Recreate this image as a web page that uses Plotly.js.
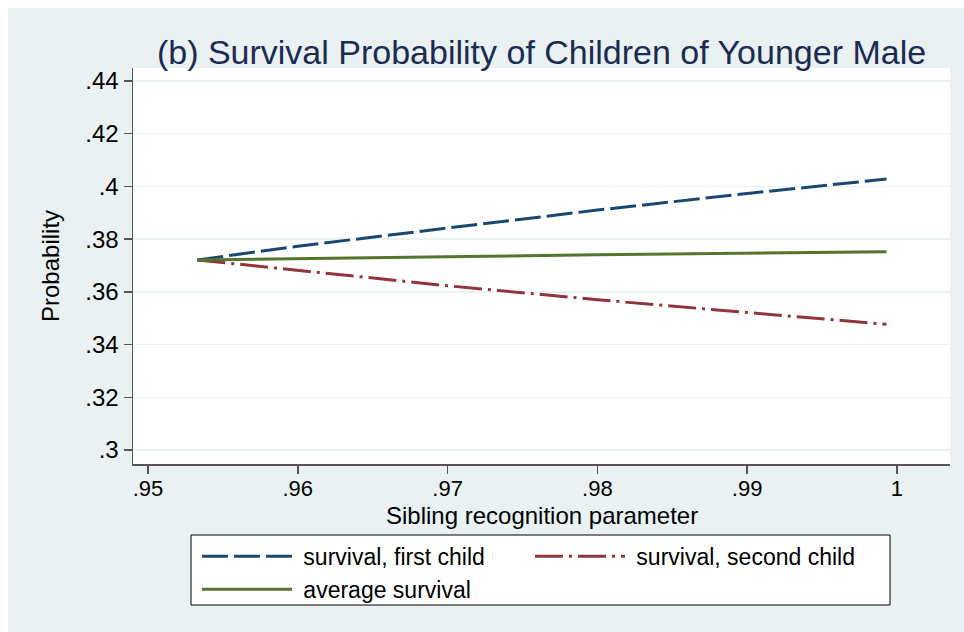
<!DOCTYPE html>
<html>
<head>
<meta charset="utf-8">
<script src="https://cdn.plot.ly/plotly-3.0.1.min.js"></script>
<style>
html,body{margin:0;padding:0;background:#ffffff;}
#chart{position:absolute;left:8px;top:8px;width:956px;height:624px;}
</style>
</head>
<body>
<div id="chart"></div>
<script>
// Sibling recognition parameter
const xValues = [0.9533, 0.96, 0.97, 0.98, 0.99, 0.9993];
// survival, first child
const firstChild = [0.3721, 0.3773, 0.3842, 0.3910, 0.3973, 0.4028];
// survival, second child
const secondChild = [0.3721, 0.3682, 0.3623, 0.3570, 0.3521, 0.3477];
// average survival
const avgSurvival = [0.3721, 0.3725, 0.3733, 0.3741, 0.3748, 0.3752];

const seriesNames = ['survival, first child', 'survival, second child', 'average survival'];
const xTicks = [0.95, 0.96, 0.97, 0.98, 0.99, 1];
const xTickText = ['.95', '.96', '.97', '.98', '.99', '1'];
const yTicks = [0.30, 0.32, 0.34, 0.36, 0.38, 0.40, 0.42, 0.44];
const yTickText = ['.3', '.32', '.34', '.36', '.38', '.4', '.42', '.44'];

const FONT = '"Liberation Sans", Arial, Helvetica, sans-serif';
const NB = '\u00a0';

const traces = [
  {x: xValues, y: firstChild, name: NB + seriesNames[0], type: 'scatter', mode: 'lines',
   line: {color: '#1A476F', width: 3, dash: '26px,6px'}},
  {x: xValues, y: secondChild, name: NB + seriesNames[1], type: 'scatter', mode: 'lines',
   line: {color: '#90353B', width: 3, dash: '28px,6px,3px,6px'}},
  {x: xValues, y: avgSurvival, name: NB + seriesNames[2], type: 'scatter', mode: 'lines',
   line: {color: '#55752F', width: 3}}
];

const layout = {
  width: 956, height: 624,
  paper_bgcolor: '#E9F1F3',
  plot_bgcolor: '#FFFFFF',
  font: {family: FONT, size: 24, color: '#000000'},
  margin: {l: 125, r: 14, t: 60, b: 168},
  title: {text: '(b) Survival Probability of Children of Younger Male',
          font: {family: FONT, size: 34, color: '#1C2B52'},
          x: 0.5, xref: 'paper', xanchor: 'center',
          y: 0.930, yref: 'container', yanchor: 'middle'},
  xaxis: {
    range: [0.949, 1.00354], tickvals: xTicks, ticktext: xTickText,
    showgrid: false, zeroline: false, showline: true, linecolor: '#555555', linewidth: 1.5,
    ticks: 'outside', ticklen: 8, tickcolor: '#555555', tickwidth: 1.5,
    ticklabelstandoff: -4,
    tickfont: {family: FONT, size: 22, color: '#000000'}
  },
  yaxis: {
    range: [0.2947, 0.4449], tickvals: yTicks, ticktext: yTickText,
    showgrid: true, gridcolor: '#EAF2F3', gridwidth: 1.5,
    zeroline: false, showline: true, linecolor: '#555555', linewidth: 1.5,
    ticks: 'outside', ticklen: 8, tickcolor: '#555555', tickwidth: 1.5,
    tickfont: {family: FONT, size: 24, color: '#000000'}
  },
  annotations: [
    {text: 'Sibling recognition parameter', xref: 'paper', yref: 'paper', x: 0.5, y: -0.1313,
     xanchor: 'center', yanchor: 'middle', showarrow: false, font: {family: FONT, size: 24, color: '#000000'}},
    {text: 'Probability', xref: 'paper', yref: 'paper', x: -0.1016, y: 0.5, textangle: -90,
     xanchor: 'center', yanchor: 'middle', showarrow: false, font: {family: FONT, size: 24, color: '#000000'}}
  ],
  showlegend: true,
  legend: {
    orientation: 'h', x: 0.0783, xanchor: 'left', y: -0.179, yanchor: 'top',
    bgcolor: 'rgba(0,0,0,0)', borderwidth: 0,
    font: {family: FONT, size: 23, color: '#000000'},
    itemwidth: 90, entrywidth: 228, entrywidthmode: 'pixels',
    traceorder: 'normal'
  },
  shapes: [
    {type: 'rect', xref: 'paper', yref: 'paper', x0: 0.0710, x1: 0.9266, y0: -0.3561, y1: -0.1793,
     fillcolor: '#FFFFFF', line: {color: '#000000', width: 1}, layer: 'above'}
  ]
};

Plotly.newPlot('chart', traces, layout, {displayModeBar: false, staticPlot: true});
</script>
</body>
</html>
